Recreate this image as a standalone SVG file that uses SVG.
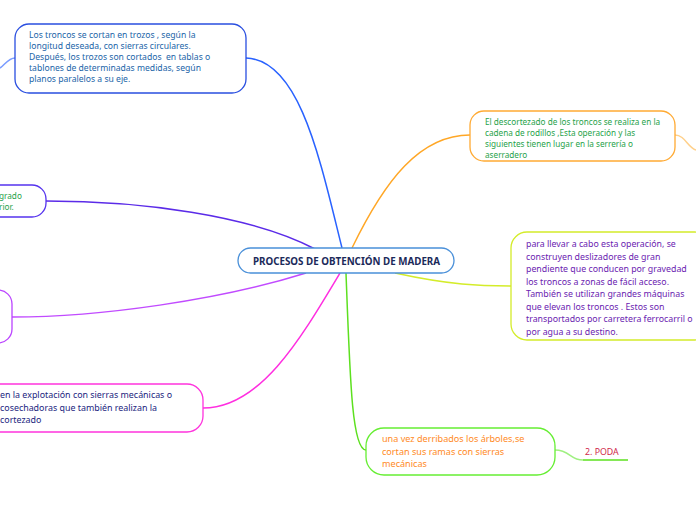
<svg xmlns="http://www.w3.org/2000/svg" width="696" height="520" viewBox="0 0 696 520">
<style>
text{font-family:"Noto Sans","Open Sans","DejaVu Sans",sans-serif}
.box{fill:#fff;stroke-width:1.3}
.c{fill:none;stroke-width:1.5}
.t1{font-size:8.6px;fill:#1a64a8}
.t2{font-size:8.2px;fill:#1fa24a}
.t3{font-size:8.8px;fill:#6a22b0}
.t4{font-size:8.9px;fill:#1b2580}
.t5{font-size:9.1px;fill:#ff8a1e}
</style>
<rect width="696" height="520" fill="#fff"/>
<g id="connectors">
<path class="c" stroke="#2962ff" d="M342,248 C320,160 300,60 246,58"/>
<path class="c" stroke="#ffa726" d="M352,248 C385,180 420,135 470,135"/>
<path class="c" stroke="#5b2be8" d="M315,249 C250,215 140,201 46,201"/>
<path class="c" stroke="#c14bff" d="M306,273 C220,300 100,317 12,317"/>
<path class="c" stroke="#ff2ee0" d="M340,273 C300,340 260,408 203,408"/>
<path class="c" stroke="#5de01f" d="M346,273 C350,380 352,450 366,450"/>
<path class="c" stroke="#d4ec2a" d="M395,273 C450,285 480,286 511,286"/>
<path class="c" stroke="#ffd08a" stroke-width="1" d="M675,135 C685,135 688,148 696,150"/>
<path class="c" stroke="#9ff080" stroke-width="1" d="M555,450 C570,450 570,460 583,460"/>
<path class="c" stroke="#5de01f" stroke-width="1.5" d="M583,460 L628,460"/>
<path class="c" stroke="#7a9cff" stroke-width="1" d="M15,58 C8,58 5,65 0,68"/>
</g>
<g id="central">
<rect class="box" x="238" y="248" width="216" height="25" rx="12.5" stroke="#4a90d9"/>
<text x="346.5" y="264.5" text-anchor="middle" font-size="9.8" font-weight="bold" fill="#1b2a5a">PROCESOS DE OBTENCIÓN DE MADERA</text>
</g>
<g id="n-trozos">
<rect class="box" x="15" y="24" width="231" height="69" rx="14" stroke="#2a4fe0"/>
<text class="t1"><tspan x="29" y="38">Los troncos se cortan en trozos , según la</tspan><tspan x="29" y="49">longitud deseada, con sierras circulares.</tspan><tspan x="29" y="60">Después, los trozos son cortados&#160; en tablas o</tspan><tspan x="29" y="71">tablones de determinadas medidas, según</tspan><tspan x="29" y="82">planos paralelos a su eje.</tspan></text>
</g>
<g id="n-descortezado">
<rect class="box" x="470" y="111" width="205" height="50" rx="14" stroke="#ffaa33"/>
<text class="t2"><tspan x="485" y="125">El descortezado de los troncos se realiza en la</tspan><tspan x="485" y="136">cadena de rodillos ,Esta operación y las</tspan><tspan x="485" y="147">siguientes tienen lugar en la serrería o</tspan><tspan x="485" y="158">aserradero</tspan></text>
</g>
<g id="n-transporte">
<rect class="box" x="511" y="232" width="200" height="108" rx="16" stroke="#d4ec2a"/>
<text class="t3"><tspan x="526" y="247">para llevar a cabo esta operación, se</tspan><tspan x="526" y="259.5">construyen deslizadores de gran</tspan><tspan x="526" y="272">pendiente que conducen por gravedad</tspan><tspan x="526" y="284.5">los troncos a zonas de fácil acceso.</tspan><tspan x="526" y="297">También se utilizan grandes máquinas</tspan><tspan x="526" y="309.5">que elevan los troncos . Estos son</tspan><tspan x="526" y="322">transportados por carretera ferrocarril o</tspan><tspan x="526" y="334.5">por agua a su destino.</tspan></text>
</g>
<g id="n-grado">
<rect class="box" x="-60" y="185" width="106" height="32" rx="14" stroke="#5533ee"/>
<text class="t2" x="-1" y="199">grado</text>
<text class="t2" x="-1" y="210">rior.</text>
</g>
<g id="n-violet">
<rect class="box" x="-60" y="290" width="72" height="53" rx="14" stroke="#bb44ff"/>
</g>
<g id="n-tala">
<rect class="box" x="-40" y="384" width="243" height="48" rx="16" stroke="#ff33dd"/>
<text class="t4"><tspan x="0" y="398">en la explotación con sierras mecánicas o</tspan><tspan x="0" y="410.5">cosechadoras que también realizan la</tspan><tspan x="0" y="423">cortezado</tspan></text>
</g>
<g id="n-ramas">
<rect class="box" x="366" y="428" width="189" height="47" rx="18" stroke="#66ee33"/>
<text class="t5"><tspan x="382" y="442">una vez derribados los árboles,se</tspan><tspan x="382" y="454.5">cortan sus ramas con sierras</tspan><tspan x="382" y="467">mecánicas</tspan></text>
</g>
<g id="n-poda">
<text x="585" y="455" font-size="8.8" fill="#d0284a">2. PODA</text>
</g>
</svg>
